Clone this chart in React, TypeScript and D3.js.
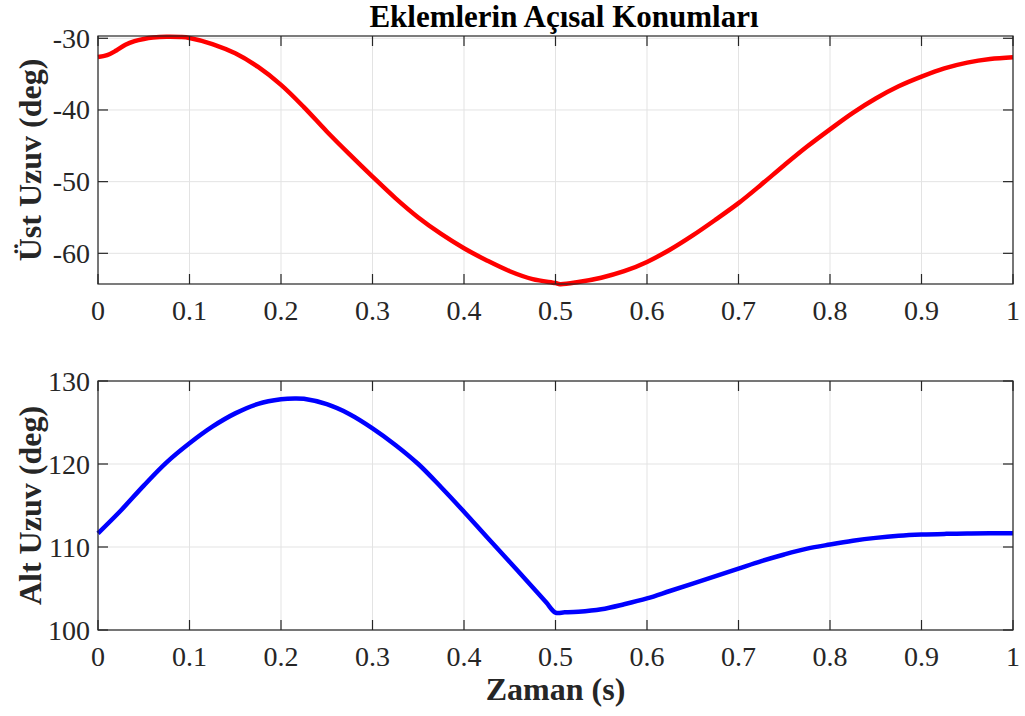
import React from 'react';
import * as d3 from 'd3';

// time axis (s) and joint angles (deg)
const timeUpper = [0, 0.01, 0.02, 0.03, 0.04, 0.05, 0.06, 0.075, 0.09, 0.1, 0.125, 0.15, 0.175, 0.2, 0.225, 0.25, 0.275, 0.3, 0.325, 0.35, 0.375, 0.4, 0.425, 0.45, 0.475, 0.5, 0.505, 0.525, 0.55, 0.575, 0.6, 0.625, 0.65, 0.675, 0.7, 0.725, 0.75, 0.775, 0.8, 0.825, 0.85, 0.875, 0.9, 0.925, 0.95, 0.975, 1];
const upperLimb = [-32.6, -32.35, -31.7, -30.9, -30.4, -30.1, -29.9, -29.78, -29.82, -29.95, -30.8, -32.1, -34.0, -36.5, -39.6, -43.0, -46.2, -49.3, -52.3, -55.0, -57.3, -59.3, -61.0, -62.5, -63.6, -64.15, -64.3, -64.0, -63.4, -62.5, -61.2, -59.5, -57.5, -55.3, -53.0, -50.4, -47.7, -45.1, -42.7, -40.4, -38.4, -36.7, -35.35, -34.2, -33.4, -32.9, -32.65];

const timeLower = [0, 0.025, 0.05, 0.075, 0.1, 0.125, 0.15, 0.175, 0.2, 0.215, 0.225, 0.25, 0.275, 0.3, 0.325, 0.35, 0.375, 0.4, 0.425, 0.45, 0.475, 0.49, 0.5, 0.51, 0.525, 0.55, 0.575, 0.6, 0.625, 0.65, 0.675, 0.7, 0.725, 0.75, 0.775, 0.8, 0.825, 0.85, 0.875, 0.9, 0.925, 0.95, 0.975, 1];
const lowerLimb = [111.65, 114.4, 117.4, 120.2, 122.5, 124.5, 126.1, 127.25, 127.8, 127.9, 127.85, 127.2, 126.0, 124.3, 122.3, 120.0, 117.2, 114.25, 111.2, 108.2, 105.15, 103.3, 102.1, 102.13, 102.2, 102.5, 103.1, 103.8, 104.7, 105.6, 106.5, 107.4, 108.3, 109.1, 109.8, 110.3, 110.75, 111.1, 111.35, 111.5, 111.58, 111.62, 111.65, 111.65];

const xTicks = [0, 0.1, 0.2, 0.3, 0.4, 0.5, 0.6, 0.7, 0.8, 0.9, 1];
const upperTicks = [-60, -50, -40, -30];
const lowerTicks = [100, 110, 120, 130];

const FONT = '"Liberation Serif", "Times New Roman", serif';
const AXIS = '#262626';
const GRID = '#e3e3e3';

const left = 98;
const right = 1013;

type PanelProps = {
  t: number[];
  v: number[];
  top: number;
  bottom: number;
  domain: [number, number];
  yTicks: number[];
  color: string;
  ylabel: string;
};

const Panel = ({ t, v, top, bottom, domain, yTicks, color, ylabel }: PanelProps) => {
  const x = d3.scaleLinear().domain([0, 1]).range([left, right]);
  const y = d3.scaleLinear().domain(domain).range([bottom, top]);
  const line = d3.line<number>()
    .x((_, i) => x(t[i]))
    .y((d) => y(d))
    .curve(d3.curveCatmullRom.alpha(0.5));
  const tick = 10;

  return (
    <g>
      {/* grid */}
      {xTicks.map((d) => (
        <line key={'gx' + d} x1={x(d)} x2={x(d)} y1={top} y2={bottom} stroke={GRID} strokeWidth={1} />
      ))}
      {yTicks.map((d) => (
        <line key={'gy' + d} x1={left} x2={right} y1={y(d)} y2={y(d)} stroke={GRID} strokeWidth={1} />
      ))}

      <path d={line(v) || ''} fill="none" stroke={color} strokeWidth={4.5} strokeLinejoin="round" />

      {/* box + inward ticks */}
      <rect x={left} y={top} width={right - left} height={bottom - top} fill="none" stroke={AXIS} strokeWidth={1.2} />
      {xTicks.map((d) => (
        <g key={'tx' + d}>
          <line x1={x(d)} x2={x(d)} y1={bottom} y2={bottom - tick} stroke={AXIS} strokeWidth={1.2} />
          <line x1={x(d)} x2={x(d)} y1={top} y2={top + tick} stroke={AXIS} strokeWidth={1.2} />
          <text x={x(d)} y={bottom + 36} textAnchor="middle" fontFamily={FONT} fontSize={28} fill={AXIS}>
            {d3.format('~g')(d)}
          </text>
        </g>
      ))}
      {yTicks.map((d) => (
        <g key={'ty' + d}>
          <line x1={left} x2={left + tick} y1={y(d)} y2={y(d)} stroke={AXIS} strokeWidth={1.2} />
          <line x1={right} x2={right - tick} y1={y(d)} y2={y(d)} stroke={AXIS} strokeWidth={1.2} />
          <text x={90} y={y(d) + 9.5} textAnchor="end" fontFamily={FONT} fontSize={28} fill={AXIS}>
            {d}
          </text>
        </g>
      ))}

      <text
        transform={`translate(41, ${(top + bottom) / 2}) rotate(-90)`}
        textAnchor="middle"
        fontFamily={FONT}
        fontWeight="bold"
        fontSize={32}
        fill={AXIS}
      >
        {ylabel}
      </text>
    </g>
  );
};

export default function App() {
  return (
    <svg
      width={1025}
      height={716}
      style={{ position: 'absolute', left: 0, top: 0, background: '#fff' }}
    >
      <rect width={1025} height={716} fill="#fff" />
      <text x={564} y={27} textAnchor="middle" fontFamily={FONT} fontWeight="bold" fontSize={31} fill="#000">
        Eklemlerin Açısal Konumları
      </text>
      <Panel
        t={timeUpper}
        v={upperLimb}
        top={36}
        bottom={284}
        domain={[-64.28, -29.68]}
        yTicks={upperTicks}
        color="#ff0000"
        ylabel="Üst Uzuv (deg)"
      />
      <Panel
        t={timeLower}
        v={lowerLimb}
        top={381}
        bottom={630}
        domain={[100, 130]}
        yTicks={lowerTicks}
        color="#0000ff"
        ylabel="Alt Uzuv (deg)"
      />
      <text x={(left + right) / 2} y={700} textAnchor="middle" fontFamily={FONT} fontWeight="bold" fontSize={32} fill={AXIS}>
        Zaman (s)
      </text>
    </svg>
  );
}
